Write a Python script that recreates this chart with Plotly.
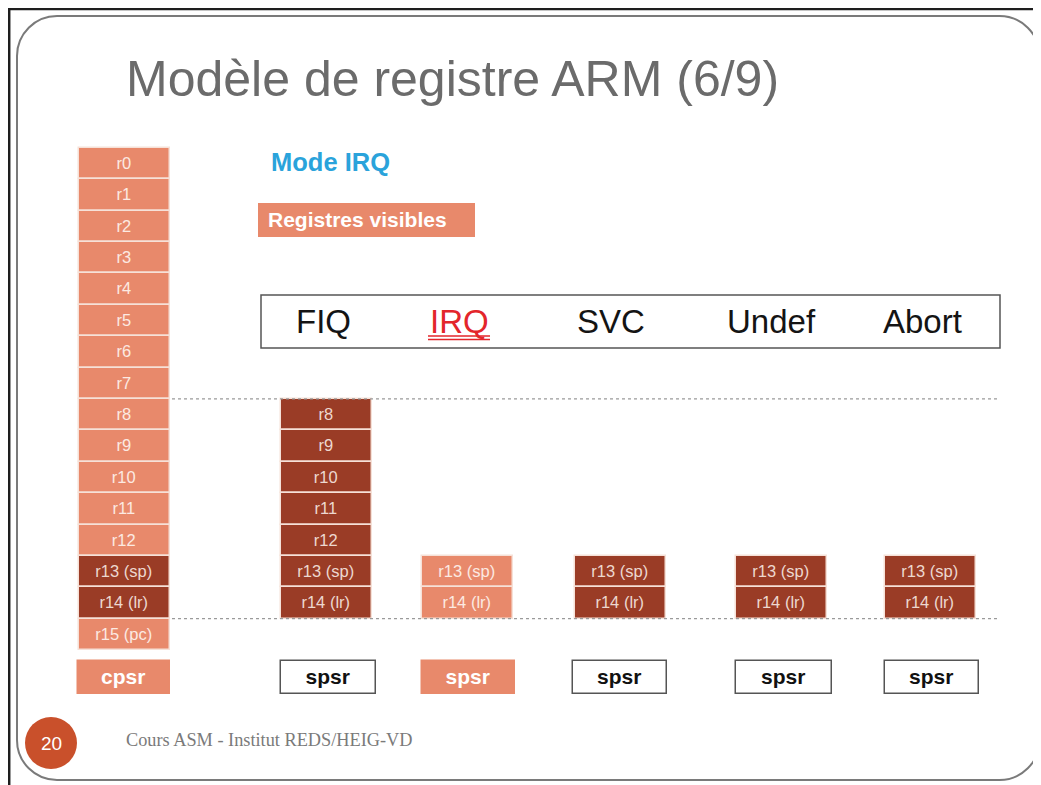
import plotly.graph_objects as go

# ------------------------------------------------------------------ data
REGISTERS = ["r0", "r1", "r2", "r3", "r4", "r5", "r6", "r7", "r8", "r9",
             "r10", "r11", "r12", "r13 (sp)", "r14 (lr)", "r15 (pc)"]
MODES = ["FIQ", "IRQ", "SVC", "Undef", "Abort"]
ACTIVE_MODE = "IRQ"
FIQ_BANKED = ["r8", "r9", "r10", "r11", "r12", "r13 (sp)", "r14 (lr)"]
IRQ_BANKED = ["r13 (sp)", "r14 (lr)"]
SVC_BANKED = ["r13 (sp)", "r14 (lr)"]
UNDEF_BANKED = ["r13 (sp)", "r14 (lr)"]
ABORT_BANKED = ["r13 (sp)", "r14 (lr)"]
BANKED = [FIQ_BANKED, IRQ_BANKED, SVC_BANKED, UNDEF_BANKED, ABORT_BANKED]
USER_STATUS = "cpsr"
MODE_STATUS = "spsr"
TITLE = "Modèle de registre ARM (6/9)"
MODE_HEADING = "Mode IRQ"
VISIBLE_LABEL = "Registres visibles"
FOOTER = "Cours ASM - Institut REDS/HEIG-VD"
SLIDE_NO = "20"

# ------------------------------------------------------------------ layout / style
W, H = 1041, 785          # window size
OFF = 8                   # page body margin offset of the figure
FW, FH = W - OFF, H - OFF # figure size
TOP_PX, ROW_PX = 147.7, 31.4            # page pixel of row 0 top, pixel height of a row
USER_COL_X = 124
MODE_COL_X = [326.5, 467.5, 620.5, 781.5, 930.5]
MODE_LABEL_X = [323, 459, 611, 771, 922]
STATUS_X = [124, 328.5, 468.5, 620, 784, 932]
STATUS_W = [92, 95, 93, 94, 96, 94]
CELL_W = 91
STATUS_ROW, STATUS_H = (661 - TOP_PX) / ROW_PX, 33 / ROW_PX

LIGHT = "#E8896B"
DARK = "#9A3C26"
LIGHT_TXT = "#FCEAE2"
DARK_TXT = "#EDD8D0"
FONT = "Liberation Sans, Arial, sans-serif"


def xp(px):
    return (px - OFF) / FW


def yp(py):
    return 1 - (py - OFF) / FH


active_idx = MODES.index(ACTIVE_MODE)
active_banked = BANKED[active_idx]

fig = go.Figure()

# user / system column
u_col = [DARK if r in active_banked else LIGHT for r in REGISTERS]
u_txt = [DARK_TXT if r in active_banked else LIGHT_TXT for r in REGISTERS]
fig.add_trace(go.Bar(
    x=[USER_COL_X] * len(REGISTERS), y=[1] * len(REGISTERS),
    base=list(range(len(REGISTERS))), width=CELL_W,
    text=REGISTERS, textposition="inside", insidetextanchor="middle",
    textfont=dict(family=FONT, size=16.5, color=u_txt), textangle=0,
    marker=dict(color=u_col, line=dict(color="#F6E1D8", width=1.5)),
    hoverinfo="skip", showlegend=False))

# banked registers per mode
for i, (mode, regs) in enumerate(zip(MODES, BANKED)):
    vis = (mode == ACTIVE_MODE)
    fig.add_trace(go.Bar(
        x=[MODE_COL_X[i]] * len(regs), y=[1] * len(regs),
        base=[REGISTERS.index(r) for r in regs], width=CELL_W,
        text=regs, textposition="inside", insidetextanchor="middle",
        textfont=dict(family=FONT, size=16.5, color=LIGHT_TXT if vis else DARK_TXT),
        textangle=0,
        marker=dict(color=LIGHT if vis else DARK, line=dict(color="#F6E1D8", width=1.5)),
        hoverinfo="skip", showlegend=False))

# status registers
s_text = [USER_STATUS] + [MODE_STATUS] * len(MODES)
s_vis = [True] + [m == ACTIVE_MODE for m in MODES]
fig.add_trace(go.Bar(
    x=STATUS_X, y=[STATUS_H] * len(STATUS_X), base=[STATUS_ROW] * len(STATUS_X),
    width=STATUS_W, text=s_text, textposition="inside", insidetextanchor="middle",
    textfont=dict(family=FONT, size=21, weight="bold",
                  color=["#FFFFFF" if v else "#111111" for v in s_vis]),
    textangle=0,
    marker=dict(color=[LIGHT if v else "#FFFFFF" for v in s_vis],
                line=dict(color=[LIGHT if v else "#555555" for v in s_vis], width=1.5)),
    hoverinfo="skip", showlegend=False))

shapes = []
# outer black frame (top + left edges)
shapes.append(dict(type="line", xref="paper", yref="paper", x0=xp(8), x1=1, y0=yp(9), y1=yp(9),
                   line=dict(color="#1E1E1E", width=2.5)))
shapes.append(dict(type="line", xref="paper", yref="paper", x0=xp(9.2), x1=xp(9.2), y0=yp(8), y1=0,
                   line=dict(color="#1E1E1E", width=2.5)))


def rrect(x0, y0, x1, y1, r):
    k = 0.5523 * r
    pts = [("M", [(x0 + r, y0)]), ("L", [(x1 - r, y0)]),
           ("C", [(x1 - r + k, y0), (x1, y0 + r - k), (x1, y0 + r)]),
           ("L", [(x1, y1 - r)]),
           ("C", [(x1, y1 - r + k), (x1 - r + k, y1), (x1 - r, y1)]),
           ("L", [(x0 + r, y1)]),
           ("C", [(x0 + r - k, y1), (x0, y1 - r + k), (x0, y1 - r)]),
           ("L", [(x0, y0 + r)]),
           ("C", [(x0, y0 + r - k), (x0 + r - k, y0), (x0 + r, y0)])]
    s = ""
    for cmd, ps in pts:
        s += cmd + " ".join(f"{xp(a):.5f},{yp(b):.5f}" for a, b in ps) + " "
    return s + "Z"


shapes.append(dict(type="path", xref="paper", yref="paper", path=rrect(17, 16, 1039.5, 780, 40),
                   line=dict(color="#7A7A7A", width=2)))

# mode header box
shapes.append(dict(type="rect", xref="paper", yref="paper", x0=xp(261), x1=xp(1000),
                   y0=yp(348), y1=yp(295), line=dict(color="#555555", width=1.5)))
# active mode double underline
ai = active_idx
for uy in (336, 339.5):
    shapes.append(dict(type="line", xref="paper", yref="paper",
                       x0=xp(MODE_LABEL_X[ai] - 31), x1=xp(MODE_LABEL_X[ai] + 31),
                       y0=yp(uy), y1=yp(uy), line=dict(color="#E3262B", width=1.4)))

# dotted separator lines (at row 8 and row 15)
for row in (REGISTERS.index("r8"), REGISTERS.index("r15 (pc)")):
    shapes.append(dict(type="line", xref="paper", yref="y", x0=xp(172), x1=xp(1000),
                       y0=row, y1=row, line=dict(color="#9A9A9A", width=1.2, dash="dot")))

# "Registres visibles" legend box
shapes.append(dict(type="rect", xref="paper", yref="paper", x0=xp(258), x1=xp(475),
                   y0=yp(237), y1=yp(203), fillcolor=LIGHT, line=dict(width=0)))
# slide number circle
shapes.append(dict(type="circle", xref="paper", yref="paper", x0=xp(25), x1=xp(77),
                   y0=yp(769), y1=yp(717), fillcolor="#C9502B", line=dict(width=0)))

ann = []
ann.append(dict(text=TITLE, x=xp(124), y=yp(79), xanchor="left", yanchor="middle",
                font=dict(family=FONT, size=50, color="#6B6B6B")))
ann.append(dict(text=MODE_HEADING, x=xp(269), y=yp(162), xanchor="left", yanchor="middle",
                font=dict(family=FONT, size=25.5, color="#2AA3DB", weight="bold")))
ann.append(dict(text=VISIBLE_LABEL, x=xp(266), y=yp(220), xanchor="left", yanchor="middle",
                font=dict(family=FONT, size=21, color="#FFFFFF", weight="bold")))
for i, m in enumerate(MODES):
    ann.append(dict(text=m, x=xp(MODE_LABEL_X[i]), y=yp(322), xanchor="center", yanchor="middle",
                    font=dict(family=FONT, size=33,
                              color="#E3262B" if m == ACTIVE_MODE else "#141414")))
ann.append(dict(text=SLIDE_NO, x=xp(51), y=yp(743), xanchor="center", yanchor="middle",
                font=dict(family=FONT, size=19, color="#FFFFFF")))
ann.append(dict(text=FOOTER, x=xp(124), y=yp(740), xanchor="left", yanchor="middle",
                font=dict(family="Liberation Serif, serif", size=18.3, color="#7A7A7A")))
for a in ann:
    a.update(xref="paper", yref="paper", showarrow=False)

fig.update_layout(
    width=FW, height=FH, autosize=False,
    margin=dict(l=0, r=0, t=0, b=0, pad=0),
    paper_bgcolor="#FFFFFF", plot_bgcolor="#FFFFFF",
    barmode="overlay", bargap=0,
    xaxis=dict(range=[OFF, W], visible=False, fixedrange=True),
    yaxis=dict(range=[(H - TOP_PX) / ROW_PX, (OFF - TOP_PX) / ROW_PX], visible=False,
               fixedrange=True),
    shapes=shapes, annotations=ann, showlegend=False,
)

fig.write_html("out.html", config={"displayModeBar": False})
